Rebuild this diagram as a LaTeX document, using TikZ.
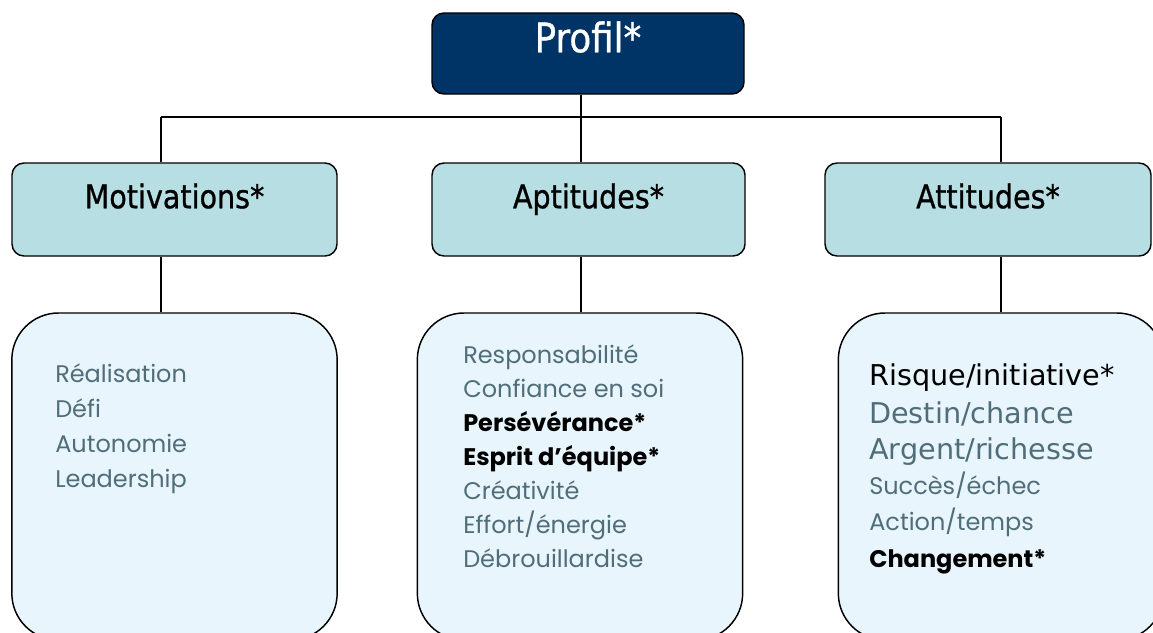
\documentclass[tikz,border=0pt]{standalone}
\usepackage{fontspec}
\usetikzlibrary{calc}
\newfontfamily\headfont[FakeStretch=0.875,FakeBold=0.8]{DejaVu Sans}
\newfontfamily\wideheadfont{DejaVu Sans}
\newfontfamily\listfont{Poppins}
\definecolor{profilblue}{RGB}{0,51,102}
\definecolor{groupteal}{RGB}{183,222,226}
\definecolor{listfill}{RGB}{232,245,252}
\definecolor{itemgrey}{RGB}{80,110,122}
\newcommand{\keyitem}[1]{{\color{black}\bfseries #1}}
\newcommand{\tallitem}[1]{{\wideheadfont\fontsize{21.5}{24}\selectfont #1}}
\tikzset{
  headbox/.style={draw, line width=1.1pt, rounded corners=9pt, fill=profilblue,
    minimum width=234pt, minimum height=60.75pt, inner sep=0pt},
  groupbox/.style={draw, line width=1.1pt, rounded corners=9pt, fill=groupteal,
    minimum height=69.75pt, inner sep=0pt},
  listbox/.style={draw, line width=1.1pt, rounded corners=35pt, fill=listfill,
    minimum width=244pt, minimum height=245.25pt, inner sep=0pt},
  headtext/.style={anchor=base, inner sep=0pt, font=\headfont\fontsize{24.5}{28}\selectfont},
  itemtext/.style={anchor=base west, inner sep=0pt, text=itemgrey, font=\listfont\fontsize{18}{21}\selectfont},
  link/.style={line width=1pt}
}
\begin{document}
\begin{tikzpicture}[x=0.75pt,y=0.75pt,yscale=-1,xscale=1]
\clip (0,0) rectangle (1153,632);

% boxes
\node[headbox] (profil) at (588,53.5) {};
\node[groupbox, minimum width=243.75pt] (mot) at (174.5,209.5) {};
\node[groupbox, minimum width=234.75pt] (apt) at (588.5,209.5) {};
\node[groupbox, minimum width=244.5pt] (att) at (988,209.5) {};
\node[listbox] (mot-list) at (174.5,476.5) {};
\node[listbox] (apt-list) at (580,476.5) {};
\node[listbox] (att-list) at (1001,476.5) {};

% connectors
\coordinate (bar-l) at (161,117);
\coordinate (bar-m) at (581,117);
\coordinate (bar-r) at (1001,117);
\draw[link] (profil.south -| bar-m) -- (bar-m);
\draw[link] (bar-l) -- (bar-r);
\foreach \g/\b in {mot/l, apt/m, att/r} {
  \draw[link] (bar-\b) -- (\g.north -| bar-\b);
  \draw[link] (\g.south -| bar-\b) -- (\g-list.north -| bar-\b);
}

% headings
\node[headtext, text=white, font=\headfont\fontsize{30.5}{34}\selectfont] (profil-t) at ($(profil.north)+(0,40)$) {Profil*};
\node[headtext] (mot-t) at ($(mot.north)+(0,46)$) {Motivations*};
\node[headtext] (apt-t) at ($(apt.north)+(0,46)$) {Aptitudes*};
\node[headtext] (att-t) at ($(att.north)+(0,46)$) {Attitudes*};

% items
\foreach \t [count=\i] in {Réalisation, Défi, Autonomie, Leadership}
  \node[itemtext] (mot-\i) at (55,{382+(\i-1)*35.3}) {\t};
\foreach \t [count=\i] in {Responsabilité, Confiance en soi, \keyitem{Persévérance*},
    \keyitem{Esprit d’équipe*}, Créativité, {Effort/énergie}, Débrouillardise}
  \node[itemtext] (apt-\i) at (463,{363+(\i-1)*34}) {\t};
\foreach \y/\t [count=\i] in {385/{\tallitem{\color{black}Risque/initiative*}},
    423/{\tallitem{Destin/chance}}, 459/{\tallitem{Argent/richesse}},
    494/{Succès/échec}, 530/{Action/temps}, 567/{\keyitem{Changement*}}}
  \node[itemtext] (att-\i) at (869,\y) {\t};

\end{tikzpicture}
\end{document}
